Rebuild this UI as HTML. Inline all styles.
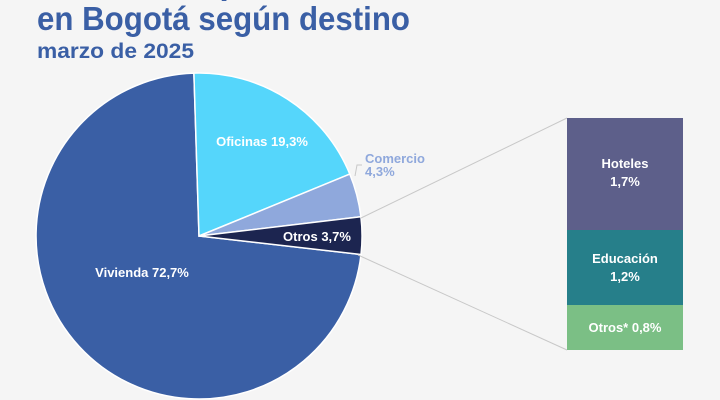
<!DOCTYPE html>
<html><head><meta charset="utf-8"><style>
html,body{margin:0;padding:0;background:#f5f5f5;}
svg{display:block;font-family:"Liberation Sans",sans-serif;}
</style></head><body>
<svg width="720" height="400" viewBox="0 0 720 400" xmlns="http://www.w3.org/2000/svg">
<rect width="720" height="400" fill="#f5f5f5"/>
<text x="36" y="-6" font-size="34" font-weight="bold" fill="#3a5fa5">Licencias aprobadas</text>
<text x="37" y="30" font-size="33" font-weight="bold" fill="#3a5fa5" textLength="373" lengthAdjust="spacingAndGlyphs">en Bogotá según destino</text>
<text x="37" y="58" font-size="21" font-weight="bold" fill="#3a5fa5" textLength="157" lengthAdjust="spacingAndGlyphs">marzo de 2025</text>
<g stroke="#ffffff" stroke-width="1.5">
<path d="M199,236 L361,254.5 A163,163 0 1 1 193.9,73.1 Z" fill="#3a5fa5"/>
<path d="M199,236 L193.9,73.1 A163,163 0 0 1 349.8,174.1 Z" fill="#55d6fb"/>
<path d="M199,236 L349.8,174.1 A163,163 0 0 1 360.9,216.7 Z" fill="#8fa8dc"/>
<path d="M199,236 L360.9,216.7 A163,163 0 0 1 361,254.5 Z" fill="#1c2550"/>
</g>
<line x1="361" y1="218" x2="567" y2="118" stroke="#c8c8c8" stroke-width="1"/>
<line x1="358" y1="255" x2="567" y2="350" stroke="#c8c8c8" stroke-width="1"/>
<polyline points="355,176 357,165 362,165" fill="none" stroke="#c8c8c8" stroke-width="1"/>
<rect x="567" y="118" width="116" height="112" fill="#5d5f8a"/>
<rect x="567" y="230" width="116" height="75" fill="#267f8a"/>
<rect x="567" y="305" width="116" height="45" fill="#7bbf85"/>
<g font-size="13" font-weight="bold" fill="#ffffff" text-anchor="middle">
<text x="262" y="146">Oficinas 19,3%</text>
<text x="317" y="241">Otros 3,7%</text>
<text x="142" y="277">Vivienda 72,7%</text>
<text x="625" y="168">Hoteles</text>
<text x="625" y="186">1,7%</text>
<text x="625" y="263">Educación</text>
<text x="625" y="281">1,2%</text>
<text x="625" y="332">Otros* 0,8%</text>
</g>
<text x="365" y="163" font-size="13" font-weight="bold" fill="#8fa8dc">Comercio</text>
<text x="365" y="176" font-size="13" font-weight="bold" fill="#8fa8dc">4,3%</text>
</svg>
</body></html>
